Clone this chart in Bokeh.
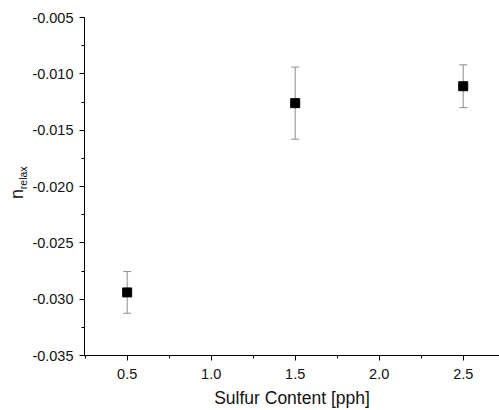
from bokeh.plotting import figure
from bokeh.models import (ColumnDataSource, Whisker, TeeHead, Range1d, SingleIntervalTicker,
                          NumeralTickFormatter, LinearAxis, FixedTicker)
from bokeh.embed import file_html
from bokeh.resources import INLINE

sulfur = [0.5, 1.5, 2.5]
n_relax = [-0.0294, -0.0126, -0.0111]
n_err = [0.00185, 0.0032, 0.0019]

FONT = "Liberation Sans"
NB = "\u00a0"

src = ColumnDataSource(dict(
    x=sulfur, y=n_relax,
    lo=[v - e for v, e in zip(n_relax, n_err)],
    hi=[v + e for v, e in zip(n_relax, n_err)],
))

p = figure(width=499, height=410, output_backend="svg", toolbar_location=None,
           x_range=Range1d(0.246, 2.716), y_range=Range1d(-0.035, -0.005),
           min_border_left=84, min_border_right=0, min_border_top=17, min_border_bottom=55)
p.outline_line_color = None
p.xgrid.visible = False
p.ygrid.visible = False
p.background_fill_color = "white"
p.border_fill_color = "white"

w = Whisker(source=src, base="x", upper="hi", lower="lo", line_color="#8c8c8c", line_width=1,
            upper_head=TeeHead(size=8, line_color="#8c8c8c", line_width=1),
            lower_head=TeeHead(size=8, line_color="#8c8c8c", line_width=1))
p.add_layout(w)
p.scatter("x", "y", source=src, marker="square", size=9, fill_color="black", line_color="black")

for ax in (p.xaxis[0], p.yaxis[0]):
    ax.axis_line_color = "black"
    ax.axis_line_width = 1
    ax.major_tick_in = 0
    ax.major_tick_out = 5
    ax.minor_tick_in = 0
    ax.minor_tick_out = 3
    ax.major_tick_line_color = "black"
    ax.minor_tick_line_color = "black"
    ax.major_label_text_font = FONT
    ax.major_label_text_font_size = "14.5px"
    ax.major_label_text_color = "#111111"

p.xaxis.ticker = SingleIntervalTicker(interval=0.5, num_minor_ticks=2)
p.yaxis.ticker = SingleIntervalTicker(interval=0.005, num_minor_ticks=2)
p.xaxis.formatter = NumeralTickFormatter(format="0.0")
p.yaxis.formatter = NumeralTickFormatter(format="0.000")
p.xaxis.major_label_standoff = 8
p.yaxis.major_label_standoff = 6

p.xaxis.axis_label = "Sulfur Content [pph]"
p.xaxis.axis_label_text_font = FONT
p.xaxis.axis_label_text_font_size = "17.5px"
p.xaxis.axis_label_text_font_style = "normal"
p.xaxis.axis_label_text_color = "#111111"
p.xaxis.axis_label_standoff = 6


def label_axis(text, size, standoff):
    a = LinearAxis(ticker=FixedTicker(ticks=[]), axis_line_color=None,
                   major_tick_line_color=None, minor_tick_line_color=None,
                   major_tick_out=0, minor_tick_out=0, major_label_standoff=0,
                   axis_label=text, axis_label_standoff=standoff,
                   axis_label_text_font=FONT, axis_label_text_font_size=size,
                   axis_label_text_font_style="normal", axis_label_text_color="#111111")
    return a


# y-axis title "n_relax": subscript nearer the axis, main letter outside
p.add_layout(label_axis(NB * 6 + "relax", "10.5px", 1), "left")
p.add_layout(label_axis("n" + NB * 3, "18px", -13), "left")

open("out.html", "w").write(file_html(p, INLINE))
